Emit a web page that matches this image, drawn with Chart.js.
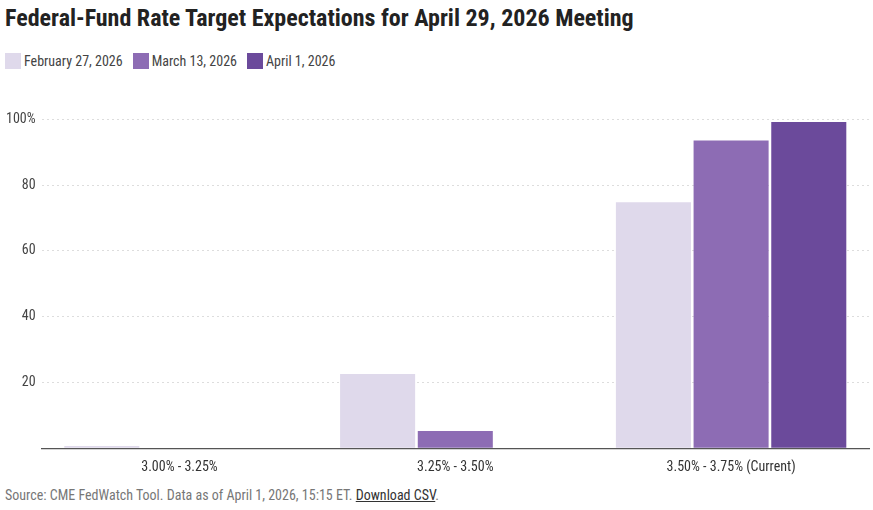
<!DOCTYPE html>
<html>
<head>
<meta charset="utf-8">
<script src="https://cdn.jsdelivr.net/npm/chart.js@4/dist/chart.umd.min.js"></script>
<style>
  body { margin: 0; background: #fff; font-family: 'Roboto Condensed', 'Liberation Sans Narrow', sans-serif; }
  #title { position: absolute; left: 5px; top: 4px; font-size: 24px; font-weight: bold; color: #222; white-space: nowrap; }
  #legend { position: absolute; left: 5px; top: 53px; font-size: 14px; color: #444; display: flex; }
  #legend span.item { display: flex; align-items: center; margin-right: 10px; }
  #legend span.box { width: 16px; height: 16px; margin-right: 3px; }
  #wrap { position: absolute; left: 0; top: 105px; width: 873px; height: 374px; }
  #source { position: absolute; left: 5px; top: 487px; font-size: 14px; color: #777; white-space: nowrap; }
  #source a { color: #333; }
</style>
</head>
<body>
<div id="title">Federal-Fund Rate Target Expectations for April 29, 2026 Meeting</div>
<div id="legend"></div>
<div id="wrap"><canvas id="chart"></canvas></div>
<div id="source">Source: CME FedWatch Tool. Data as of April 1, 2026, 15:15 ET. <a href="#">Download CSV</a>.</div>
<script>
const FONT = "'Roboto Condensed', 'Liberation Sans Narrow', sans-serif";

const categories = ['3.00% - 3.25%', '3.25% - 3.50%', '3.50% - 3.75% (Current)'];
const seriesNames = ['February 27, 2026', 'March 13, 2026', 'April 1, 2026'];
const feb27 = [0.7, 22.6, 74.8];
const mar13 = [0, 5.2, 93.6];
const apr1 = [0, 0, 99.2];
const seriesColors = ['#dfd9eb', '#8d6cb4', '#6b4a9b'];
const yTicks = [0, 20, 40, 60, 80, 100];

const ctx = document.getElementById('chart').getContext('2d');
const chart = new Chart(ctx, {
  type: 'bar',
  data: {
    labels: categories,
    datasets: [feb27, mar13, apr1].map((d, i) => ({
      label: seriesNames[i],
      data: d,
      backgroundColor: seriesColors[i],
      borderWidth: 0,
      categoryPercentage: 0.845,
      barPercentage: 0.966
    }))
  },
  options: {
    responsive: true,
    maintainAspectRatio: false,
    animation: false,
    layout: { padding: { left: 0, right: 4, top: 10, bottom: 0 } },
    plugins: {
      legend: { display: false },
      tooltip: { enabled: false }
    },
    scales: {
      x: {
        grid: { display: false },
        border: { color: '#555', width: 1.3 },
        ticks: { color: '#333', font: { family: FONT, size: 14 }, padding: 3 }
      },
      y: {
        min: 0, max: 100,
        afterBuildTicks: s => { s.ticks = yTicks.map(v => ({ value: v })); },
        border: { display: false, dash: [2, 3] },
        grid: {
          color: c => c.tick && c.tick.value === 0 ? 'rgba(0,0,0,0)' : '#ddd',
          drawTicks: false
        },
        ticks: {
          color: '#444',
          font: { family: FONT, size: 14 },
          padding: 6,
          callback: v => v === 0 ? '' : (v === 100 ? '100%' : v)
        }
      }
    }
  }
});

// html legend from the datasets
const legend = document.getElementById('legend');
chart.data.datasets.forEach(ds => {
  const item = document.createElement('span');
  item.className = 'item';
  const box = document.createElement('span');
  box.className = 'box';
  box.style.background = ds.backgroundColor;
  item.appendChild(box);
  item.appendChild(document.createTextNode(ds.label));
  legend.appendChild(item);
});
</script>
</body>
</html>
